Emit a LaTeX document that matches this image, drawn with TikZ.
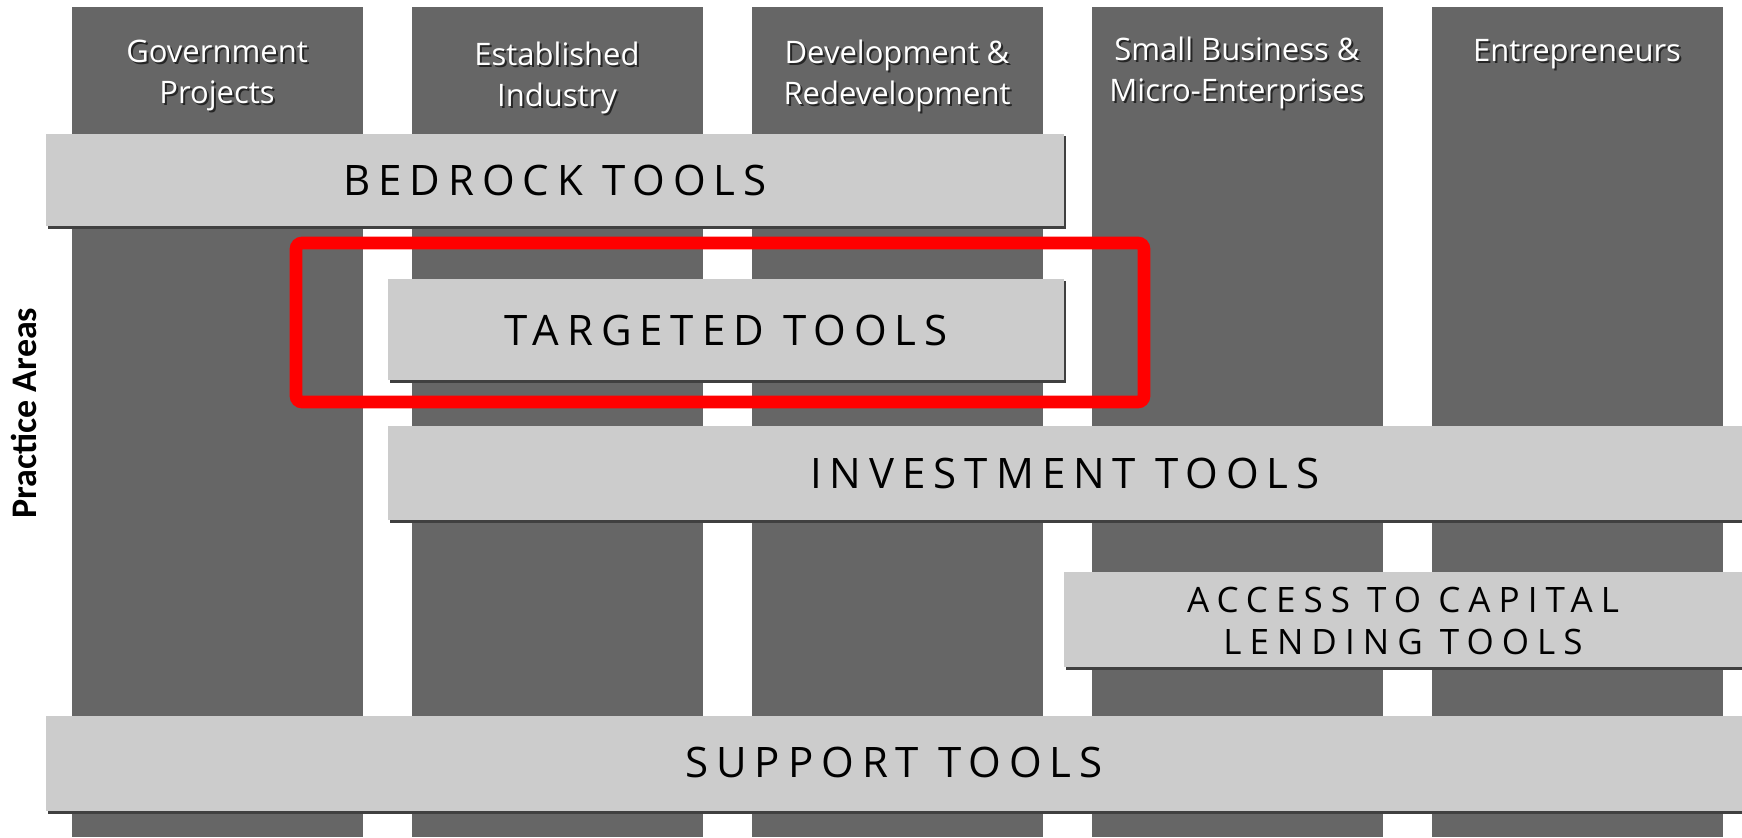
\documentclass[tikz,border=0pt]{standalone}
\usepackage{fontspec}
\setmainfont{Open Sans}
\newfontfamily\barfont[LetterSpace=19]{Open Sans}
\newfontfamily\accessfont[LetterSpace=23]{Open Sans}
\newfontfamily\sidefont{Carlito}
\definecolor{colgray}{HTML}{666666}
\definecolor{bargray}{HTML}{CCCCCC}
\definecolor{framered}{HTML}{FF0000}
\begin{document}
\begin{tikzpicture}[x=0.5pt,y=-0.5pt,
    column/.style={fill=colgray},
    bar/.style={fill=bargray},
    barshadow/.style={fill=black!75},
    bartext/.style={font=\barfont\fontsize{21}{27}\selectfont,align=center,inner sep=0pt},
    head/.style={font=\fontsize{15.5}{20.5}\selectfont,align=center,text=white,inner sep=0pt},
    headshadow/.style={head,text=black!85,xshift=1pt,yshift=-1pt}]
  \useasboundingbox (0,0) rectangle (1742,837);
  \fill[white] (0,0) rectangle (1742,837);
  \foreach \i in {0,...,4}
    \fill[column] (71.5+340*\i,7) rectangle ++(291,830);
  \foreach \n/\x/\y/\t in {gov/217/75/{Government\\Projects},
      ind/557/77.5/{Established\\Industry},
      dev/897/75.5/{Development \&\\Redevelopment},
      small/1237/72.5/{Small Business \&\\Micro-Enterprises},
      entr/1577/54/{Entrepreneurs}}{
    \node[headshadow] (\n s) at (\x,\y) {\t};
    \node[head] (\n) at (\x,\y) {\t};
  }
  \fill[barshadow] (48,136) rectangle (1066,229);
  \fill[bar] (46,134) rectangle (1064,226);
  \fill[barshadow] (390,281) rectangle (1066,383);
  \fill[bar] (388,279) rectangle (1064,380);
  \fill[barshadow] (390,428) rectangle (1742,523);
  \fill[bar] (388,426) rectangle (1742,520);
  \fill[barshadow] (1066,574) rectangle (1742,670);
  \fill[bar] (1064,572) rectangle (1742,667);
  \fill[barshadow] (48,718) rectangle (1742,814);
  \fill[bar] (46,716) rectangle (1742,811);
  \node[bartext] (bedrock) at (555,180) {BEDROCK TOOLS};
  \node[bartext] (targeted) at (726,330) {TARGETED TOOLS};
  \node[bartext] (investment) at (1065,473) {INVESTMENT TOOLS};
  \node[bartext,font=\accessfont\fontsize{17.5}{21}\selectfont] (access) at (1403,621) {ACCESS TO CAPITAL\\LENDING TOOLS};
  \node[bartext] (support) at (894,762) {SUPPORT TOOLS};
  \draw[framered,line width=6.3pt,rounded corners=3pt] (296,243) rectangle (1144,402);
  \node[font=\sidefont\bfseries\fontsize{18}{20}\selectfont,rotate=90,inner sep=0pt] (practice) at (24,413) {Practice Areas};
\end{tikzpicture}
\end{document}
